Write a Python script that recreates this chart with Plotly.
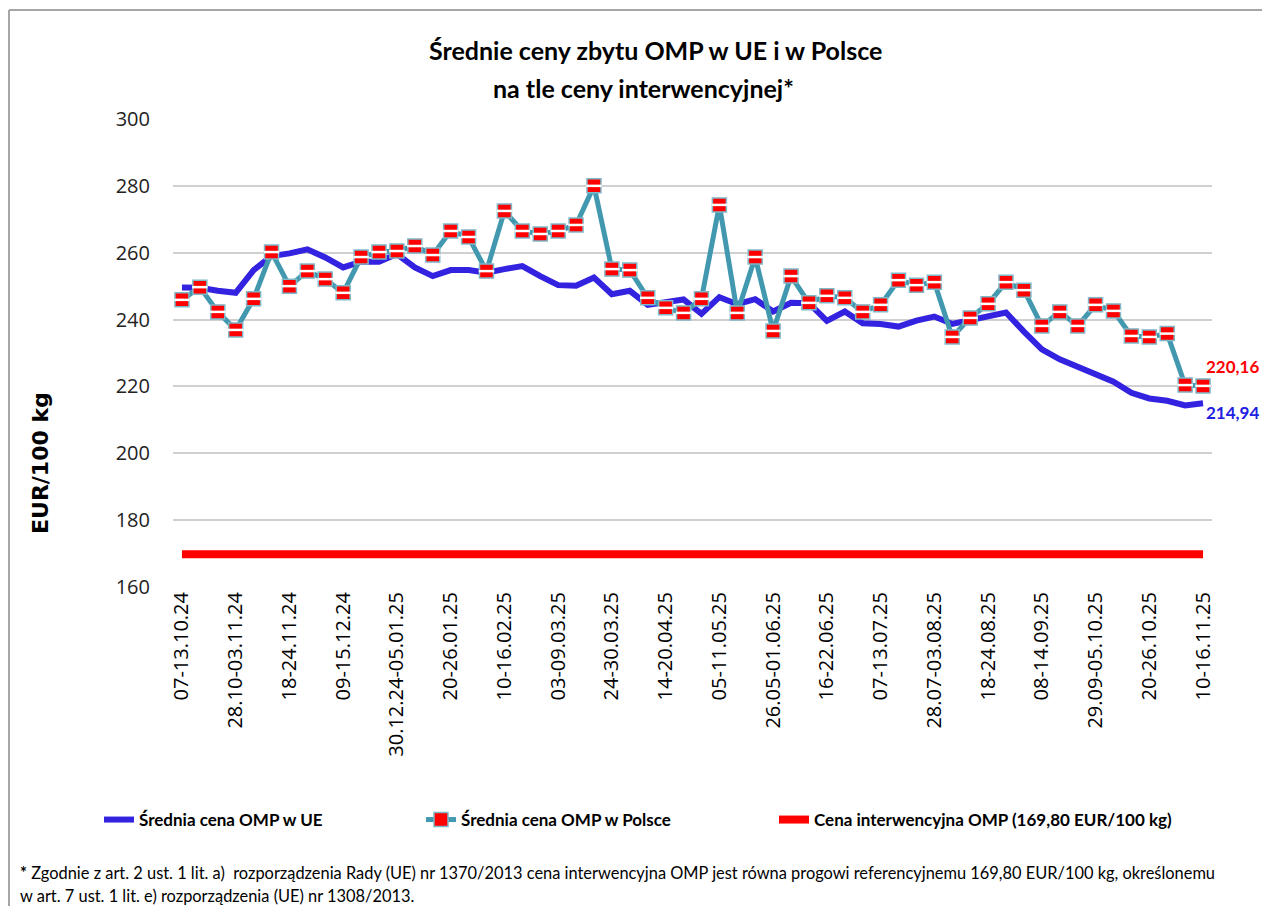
import plotly.graph_objects as go

weeks = [
    "07-13.10.24", "14-20.10.24", "21-27.10.24", "28.10-03.11.24", "04-10.11.24",
    "11-17.11.24", "18-24.11.24", "25.11-01.12.24", "02-08.12.24", "09-15.12.24",
    "16-22.12.24", "23-29.12.24", "30.12.24-05.01.25", "06-12.01.25", "13-19.01.25",
    "20-26.01.25", "27.01-02.02.25", "03-09.02.25", "10-16.02.25", "17-23.02.25",
    "24.02-02.03.25", "03-09.03.25", "10-16.03.25", "17-23.03.25", "24-30.03.25",
    "31.03-06.04.25", "07-13.04.25", "14-20.04.25", "21-27.04.25", "28.04-04.05.25",
    "05-11.05.25", "12-18.05.25", "19-25.05.25", "26.05-01.06.25", "02-08.06.25",
    "09-15.06.25", "16-22.06.25", "23-29.06.25", "30.06-06.07.25", "07-13.07.25",
    "14-20.07.25", "21-27.07.25", "28.07-03.08.25", "04-10.08.25", "11-17.08.25",
    "18-24.08.25", "25-31.08.25", "01-07.09.25", "08-14.09.25", "15-21.09.25",
    "22-28.09.25", "29.09-05.10.25", "06-12.10.25", "13-19.10.25", "20-26.10.25",
    "27.10-02.11.25", "03-09.11.25", "10-16.11.25",
]

tick_labels = weeks[::3]

eu_price = [
    249.6, 249.5, 248.6, 248.0, 254.8, 259.0, 259.8, 261.0, 258.6, 255.6,
    257.3, 257.3, 259.6, 255.6, 253.0, 254.8, 254.8, 254.0, 255.1, 256.0,
    253.0, 250.3, 250.1, 252.6, 247.6, 248.6, 244.4, 245.4, 246.0, 241.7,
    246.7, 244.6, 246.1, 242.4, 245.0, 244.9, 239.6, 242.4, 238.9, 238.7,
    237.9, 239.7, 240.9, 238.7, 239.7, 240.9, 242.1, 236.4, 231.1, 228.1,
    225.9, 223.7, 221.4, 218.1, 216.4, 215.7, 214.3, 214.94,
]

pl_price = [
    245.9, 249.7, 242.3, 236.9, 246.2, 260.2, 250.0, 254.5, 252.1, 248.0,
    258.7, 260.2, 260.5, 262.0, 259.3, 266.5, 264.7, 254.5, 272.5, 266.5,
    265.6, 266.5, 268.3, 280.0, 255.1, 254.8, 246.5, 243.5, 242.0, 246.2,
    274.3, 242.0, 258.7, 236.6, 253.0, 245.0, 247.1, 246.5, 242.3, 244.4,
    251.8, 250.3, 251.2, 234.8, 240.5, 244.7, 251.2, 248.8, 238.1, 242.3,
    238.1, 244.4, 242.6, 235.1, 234.8, 235.8, 220.4, 220.16,
]

intervention = [169.8] * len(weeks)

name_eu = "Średnia cena OMP w UE"
name_pl = "Średnia cena OMP w Polsce"
name_int = "Cena interwencyjna OMP (169,80 EUR/100 kg)"

TXT = "Lato, Noto Sans, sans-serif"
BLUE = "#3322E0"
TEAL = "#4299AF"
RED = "#FF0000"

# plot-area pixel geometry (screen coords) used to place paper-anchored texts
PX0, PW, PY1, PH = 173, 1039, 587, 468


def px(x):
    return (x - PX0) / PW


def py(y):
    return (PY1 - y) / PH


fig = go.Figure()

fig.add_trace(go.Scatter(
    x=weeks, y=intervention, name=name_int, mode="lines",
    line=dict(color=RED, width=8), legend="legend3",
))
fig.add_trace(go.Scatter(
    x=weeks, y=eu_price, name=name_eu, mode="lines",
    line=dict(color=BLUE, width=6), legend="legend",
))
fig.add_trace(go.Scatter(
    x=weeks, y=pl_price, name=name_pl, mode="lines+markers",
    line=dict(color=TEAL, width=5),
    marker=dict(symbol="square", size=14, color=RED,
                line=dict(color="#7FB8C8", width=1.5)),
    legend="legend2",
))
fig.add_trace(go.Scatter(
    x=weeks, y=pl_price, mode="markers", showlegend=False, hoverinfo="skip",
    marker=dict(symbol="line-ew", size=11, color="white",
                line=dict(color="white", width=2.5)),
))

last = weeks[-1]
fig.add_annotation(x=last, y=pl_price[-1], text="<b>220,16</b>", showarrow=False,
                   xanchor="left", yanchor="middle", xshift=1, yshift=19,
                   font=dict(family=TXT, size=17, color=RED))
fig.add_annotation(x=last, y=eu_price[-1], text="<b>214,94</b>", showarrow=False,
                   xanchor="left", yanchor="middle", xshift=1, yshift=-9,
                   font=dict(family=TXT, size=17, color="#2020E0"))

# Title (two lines)
fig.add_annotation(xref="paper", yref="paper", x=px(655), y=py(50),
                   text="<b>Średnie ceny zbytu OMP w UE i w Polsce</b>",
                   showarrow=False, xanchor="center", yanchor="middle",
                   font=dict(family=TXT, size=25, color="black"))
fig.add_annotation(xref="paper", yref="paper", x=px(643), y=py(88),
                   text="<b>na tle ceny interwencyjnej*</b>",
                   showarrow=False, xanchor="center", yanchor="middle",
                   font=dict(family=TXT, size=25, color="black"))

# Y axis title
fig.add_annotation(xref="paper", yref="paper", x=px(40), y=py(463),
                   text="<b>EUR/100 kg</b>", textangle=-90, showarrow=False,
                   xanchor="center", yanchor="middle",
                   font=dict(family="DejaVu Sans, sans-serif", size=22, color="black"))

# Footnote
fig.add_annotation(xref="paper", yref="paper", x=px(18), y=py(872),
                   text="<b>*</b> Zgodnie z art. 2 ust. 1 lit. a)  rozporządzenia Rady (UE) nr 1370/2013 cena interwencyjna OMP jest równa progowi referencyjnemu 169,80 EUR/100 kg, określonemu",
                   showarrow=False, xanchor="left", yanchor="middle", align="left",
                   font=dict(family=TXT, size=16.4, color="black"))
fig.add_annotation(xref="paper", yref="paper", x=px(18), y=py(896),
                   text="w art. 7 ust. 1 lit. e) rozporządzenia (UE) nr 1308/2013.",
                   showarrow=False, xanchor="left", yanchor="middle", align="left",
                   font=dict(family=TXT, size=16.4, color="black"))

# Outer border (top and left edges of the chart frame)
fig.add_shape(type="line", xref="paper", yref="paper",
              x0=px(9), x1=px(1262), y0=py(10), y1=py(10),
              line=dict(color="#A6A6A6", width=2))
fig.add_shape(type="line", xref="paper", yref="paper",
              x0=px(9), x1=px(9), y0=py(10), y1=py(906),
              line=dict(color="#A6A6A6", width=2))

leg_common = dict(orientation="h", xanchor="left", yanchor="middle",
                  font=dict(family=TXT, size=17, color="black", weight="bold"),
                  itemwidth=30, bgcolor="rgba(0,0,0,0)")

fig.update_layout(
    width=1254, height=899,
    margin=dict(l=165, r=50, t=111, b=320, autoexpand=False),
    paper_bgcolor="white", plot_bgcolor="white",
    showlegend=True,
    legend=dict(x=px(99), y=py(820), **leg_common),
    legend2=dict(x=px(421), y=py(820), **leg_common),
    legend3=dict(x=px(774), y=py(820), **leg_common),
    xaxis=dict(
        type="category", range=[-0.5, 57.5],
        tickmode="array", tickvals=tick_labels, ticktext=tick_labels,
        tickangle=-90, showgrid=False, showline=False, ticks="",
        tickfont=dict(family="Open Sans, sans-serif", size=20, color="black"),
    ),
    yaxis=dict(
        range=[160, 300], tickvals=[160, 180, 200, 220, 240, 260, 280, 300],
        showgrid=True, gridcolor="#D0D0D0", gridwidth=1.5, zeroline=False,
        showline=False, ticks="", ticklabelstandoff=22,
        tickfont=dict(family="Open Sans, sans-serif", size=20, color="#222222"),
    ),
)

fig.write_html("out.html")
